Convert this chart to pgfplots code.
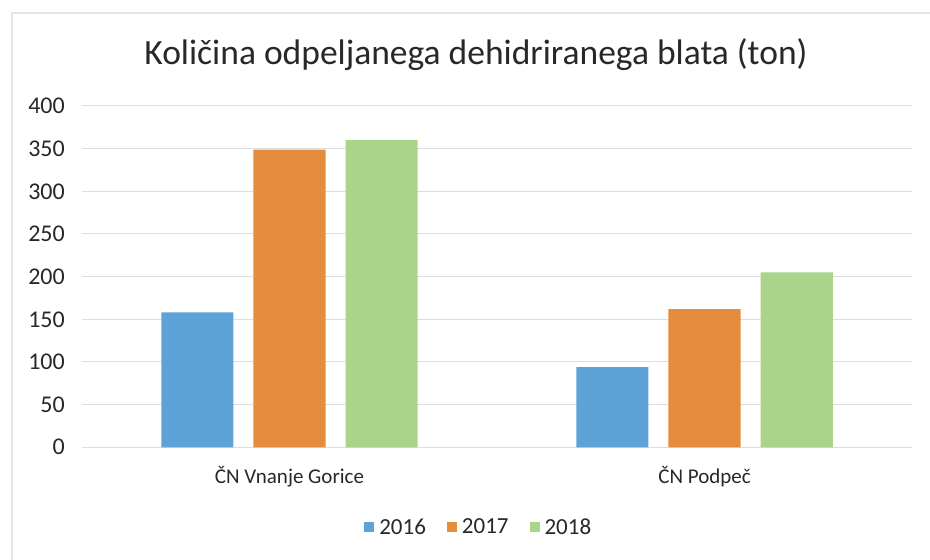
\documentclass[border=0pt]{standalone}
\usepackage{fontspec}
\setmainfont{Carlito}
\usepackage{pgfplots}
\pgfplotsset{compat=1.18}
\definecolor{cblue}{RGB}{93,163,215}
\definecolor{corange}{RGB}{228,141,62}
\definecolor{cgreen}{RGB}{170,212,138}
\definecolor{cgrid}{RGB}{222,222,222}
\definecolor{ctext}{RGB}{40,40,40}
\begin{document}
\begin{tikzpicture}[x=1bp,y=1bp]
\useasboundingbox (0,0) rectangle (930,560);
\fill[white] (0,0) rectangle (930,560);
\draw[gray!20, line width=1.2bp] (12,0) -- (12,547) -- (930,547);
\node[anchor=base, text=ctext, font=\fontsize{35.5bp}{42bp}\selectfont] at (476,495) {Količina odpeljanega dehidriranega blata (ton)};
\begin{axis}[
  at={(82bp,112.7bp)}, anchor=south west,
  scale only axis, width=830bp, height=341.3bp,
  ybar, bar width=0.174,
  xmin=-0.5, xmax=1.5, ymin=0, ymax=400,
  xtick={0,1}, xticklabels={ČN Vnanje Gorice, ČN Podpeč},
  ytick={0,50,...,400},
  axis line style={draw=none},
  major tick length=0pt,
  ymajorgrids, grid style={cgrid, line width=1bp},
  /pgf/number format/assume math mode=true,
  tick label style={text=ctext},
  yticklabel style={font=\fontsize{24bp}{28bp}\selectfont, anchor=east, inner sep=0pt, xshift=-17bp},
  xticklabel style={font=\fontsize{21bp}{25bp}\selectfont, anchor=north, inner sep=0pt, yshift=-19bp},
  legend style={at={(0.478,-0.2335)}, anchor=center, draw=none, fill=none,
    font=\fontsize{23bp}{27bp}\selectfont, text=ctext, legend columns=3,
    /tikz/every even column/.append style={column sep=19bp}},
  legend image code/.code={\path[#1, draw=none] (0bp,-5bp) rectangle (10bp,5bp); \path (13bp,0bp);},
]
\addplot[fill=cblue, draw=none, bar shift=-0.222] coordinates {(0,158) (1,94)};
\addplot[fill=corange, draw=none, bar shift=0] coordinates {(0,349) (1,162)};
\addplot[fill=cgreen, draw=none, bar shift=0.222] coordinates {(0,360) (1,205)};
\legend{2016,2017,2018}
\end{axis}
\end{tikzpicture}
\end{document}
